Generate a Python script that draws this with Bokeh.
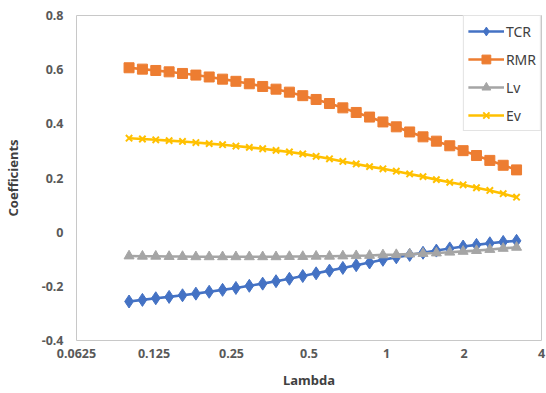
from bokeh.plotting import figure
from bokeh.models import Range1d, FixedTicker, Legend
from bokeh.embed import file_html
from bokeh.resources import INLINE

# ---- data ----
lam = [0.1, 0.1127, 0.1270, 0.1431, 0.1613, 0.1818, 0.2048, 0.2308, 0.2601, 0.2932,
       0.3304, 0.3723, 0.4196, 0.4729, 0.5329, 0.6005, 0.6768, 0.7627, 0.8595, 0.9686,
       1.0916, 1.2302, 1.3863, 1.5623, 1.7607, 1.9842, 2.2361, 2.5200, 2.8399, 3.2]
tcr = [-0.256, -0.250, -0.244, -0.239, -0.233, -0.227, -0.220, -0.213, -0.206, -0.198,
       -0.190, -0.181, -0.172, -0.162, -0.152, -0.142, -0.132, -0.122, -0.112, -0.102,
       -0.093, -0.084, -0.076, -0.068, -0.060, -0.053, -0.047, -0.041, -0.036, -0.032]
rmr = [0.607, 0.602, 0.597, 0.592, 0.586, 0.580, 0.573, 0.565, 0.557, 0.548,
       0.538, 0.528, 0.517, 0.504, 0.490, 0.475, 0.459, 0.442, 0.425, 0.407,
       0.389, 0.370, 0.352, 0.336, 0.319, 0.301, 0.283, 0.265, 0.247, 0.230]
lv = [-0.088, -0.089, -0.089, -0.090, -0.090, -0.091, -0.091, -0.091, -0.091, -0.091,
      -0.091, -0.091, -0.090, -0.090, -0.089, -0.089, -0.088, -0.087, -0.086, -0.084,
      -0.083, -0.081, -0.079, -0.077, -0.074, -0.071, -0.068, -0.064, -0.060, -0.056]
ev = [0.347, 0.344, 0.341, 0.338, 0.335, 0.331, 0.327, 0.323, 0.318, 0.313,
      0.308, 0.302, 0.296, 0.289, 0.280, 0.271, 0.261, 0.252, 0.242, 0.234,
      0.225, 0.215, 0.205, 0.194, 0.184, 0.175, 0.164, 0.154, 0.142, 0.129]

x_ticks = [0.0625, 0.125, 0.25, 0.5, 1, 2, 4]
x_tick_labels = ["0.0625", "0.125", "0.25", "0.5", "1", "2", "4"]
y_ticks = [-0.4, -0.2, 0, 0.2, 0.4, 0.6, 0.8]
y_tick_labels = ["-0.4", "-0.2", "0", "0.2", "0.4", "0.6", "0.8"]

series_names = ["TCR", "RMR", "Lv", "Ev"]

p = figure(width=546, height=393, output_backend="svg", toolbar_location=None,
           x_axis_type="log",
           x_range=Range1d(0.0625, 4), y_range=Range1d(-0.4, 0.8),
           min_border_left=67, min_border_right=5, min_border_top=15, min_border_bottom=53)

p.background_fill_color = "white"
p.border_fill_color = "white"
p.outline_line_color = "#c8c8c8"
p.outline_line_width = 1
p.xgrid.visible = False
p.ygrid.visible = False

FONT = "Noto Sans"
for ax in (p.xaxis[0], p.yaxis[0]):
    ax.axis_line_color = None
    ax.major_tick_line_color = None
    ax.minor_tick_line_color = None
    ax.major_label_text_font = FONT
    ax.major_label_text_font_style = "bold"
    ax.major_label_text_font_size = "12.5px"
    ax.major_label_text_color = "#595959"
    ax.axis_label_text_font = FONT
    ax.axis_label_text_font_style = "bold"
    ax.axis_label_text_font_size = "13px"
    ax.axis_label_text_color = "#404040"

p.xaxis.ticker = FixedTicker(ticks=x_ticks, minor_ticks=[])
p.xaxis.major_label_overrides = {t: l for t, l in zip(x_ticks, x_tick_labels)}
p.xaxis.major_tick_out = 0
p.xaxis.major_label_standoff = 8
p.xaxis.axis_label = "Lambda"
p.xaxis.axis_label_standoff = 10

p.yaxis.ticker = FixedTicker(ticks=y_ticks, minor_ticks=[])
p.yaxis.major_label_overrides = {t: l for t, l in zip(y_ticks, y_tick_labels)}
p.yaxis.major_tick_out = 0
p.yaxis.major_label_standoff = 13
p.yaxis.axis_label = "Coefficients"
p.yaxis.axis_label_standoff = 17

specs = [
    (tcr, "#4472C4", "diamond", 13),
    (rmr, "#ED7D31", "square", 10),
    (lv, "#A5A5A5", "triangle", 10),
    (ev, "#FFC000", "x", 9),
]
items = []
for name, (ys, color, marker, size) in zip(series_names, specs):
    r1 = p.line(lam, ys, line_color=color, line_width=2.6)
    if marker == "x":
        r2 = p.scatter(lam, ys, marker=marker, size=size, line_color=color, line_width=2)
    else:
        r2 = p.scatter(lam, ys, marker=marker, size=size, fill_color=color, line_color=color)
    items.append((name, [r1, r2]))

legend = Legend(items=items, location="top_right")
legend.margin = 0
legend.padding = 4
legend.spacing = 6
legend.label_text_font = FONT
legend.label_text_font_size = "14px"
legend.label_text_color = "#404040"
legend.label_standoff = 2
legend.glyph_width = 36
legend.glyph_height = 22
legend.label_height = 22
legend.border_line_color = "#c8c8c8"
legend.background_fill_color = "white"
legend.background_fill_alpha = 1
p.add_layout(legend)

open("out.html", "w").write(file_html(p, INLINE))
